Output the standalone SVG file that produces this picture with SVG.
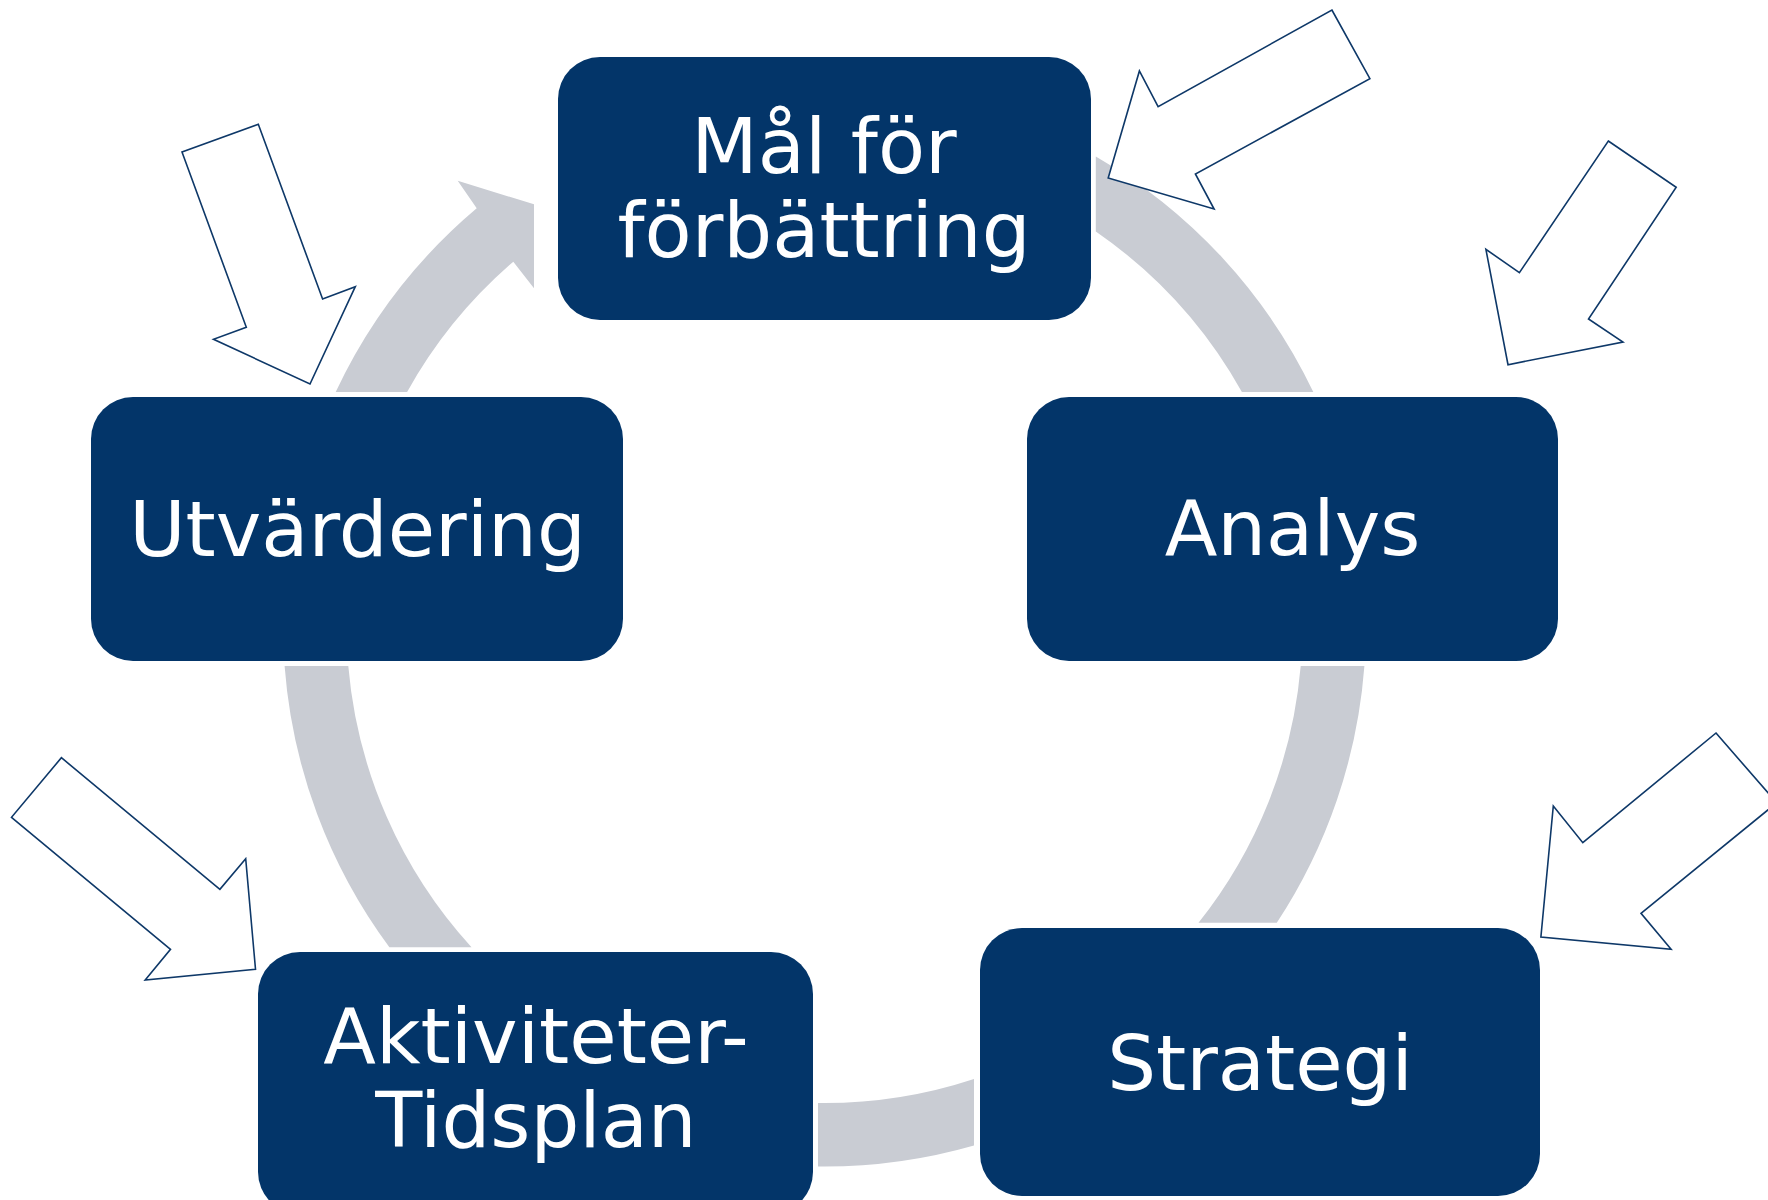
<svg xmlns="http://www.w3.org/2000/svg" width="1768" height="1200" viewBox="0 0 1768 1200">
<style>
.box{fill:#033569}
.lbl{font-family:"DejaVu Sans","Liberation Sans",sans-serif;font-size:77px;fill:#ffffff;text-anchor:middle}
.arc{fill:#C9CCD3}
.out{fill:#ffffff;stroke:#0E3868;stroke-width:1.6;stroke-linejoin:miter}
</style>
<rect width="1768" height="1200" fill="#ffffff"/>
<g id="connectors">
<path class="arc" d="M 335.7,392 A 541.5 541.5 0 0 1 476.7,208.3 L 457.7,180.7 L 534,204.3 L 534,288.3 L 513.3,261.7 A 478 478 0 0 0 407.1,392 Z"/>
<path class="arc" d="M 1095.8,156.4 A 541.5 541.5 0 0 1 1313.3,392 L 1241.9,392 A 478 478 0 0 0 1095.8,231.5 Z"/>
<path class="arc" d="M 1364.4,666 A 541.5 541.5 0 0 1 1276.8,922.7 L 1198.5,922.7 A 478 478 0 0 0 1300.7,666 Z"/>
<path class="arc" d="M 974,1145.5 A 541.5 541.5 0 0 1 818,1166.5 L 818,1103 A 478 478 0 0 0 974,1079 Z"/>
<path class="arc" d="M 389.4,947.3 A 541.5 541.5 0 0 1 284.6,666 L 348.3,666 A 478 478 0 0 0 471.5,947.3 Z"/>
</g>
<g id="input-arrows">
<polygon class="out" points="258.3,124.3 322.6,299 355.3,286.7 310,384 213.5,339.3 246.3,327.3 182,152"/>
<polygon class="out" points="1331.9,10 1369.9,78.7 1195.4,174 1214.1,209 1108.2,178 1139.4,71 1158.1,106.7"/>
<polygon class="out" points="1608.3,141 1676.2,187.3 1588.5,319 1623,342 1508,364.7 1485.9,249.3 1519.4,272.7"/>
<polygon class="out" points="1716,733 1776.7,802.8 1641,913.3 1671.1,949.3 1540.9,937 1553.3,806 1582.8,842.7"/>
<polygon class="out" points="61.4,757.7 219.9,889.3 245.7,858.7 255.5,969.3 145.2,980 170.5,949.3 11.5,817.3"/>
</g>
<g id="node-mal">
<rect class="box" x="558" y="57" width="533" height="263" rx="42" ry="42"/>
<text class="lbl" x="824" y="172.7">Mål för</text>
<text class="lbl" x="824" y="256.7">förbättring</text>
</g>
<g id="node-analys">
<rect class="box" x="1027" y="397" width="531" height="264" rx="42" ry="42"/>
<text class="lbl" x="1292.5" y="555">Analys</text>
</g>
<g id="node-strategi">
<rect class="box" x="980" y="928" width="560" height="268" rx="42" ry="42"/>
<text class="lbl" x="1260" y="1090">Strategi</text>
</g>
<g id="node-aktiviteter">
<rect class="box" x="258" y="952" width="555" height="262" rx="42" ry="42"/>
<text class="lbl" x="536" y="1063.3">Aktiviteter-</text>
<text class="lbl" x="536" y="1147.3">Tidsplan</text>
</g>
<g id="node-utvardering">
<rect class="box" x="91" y="397" width="532" height="264" rx="42" ry="42"/>
<text class="lbl" x="357.5" y="556">Utvärdering</text>
</g>
</svg>
